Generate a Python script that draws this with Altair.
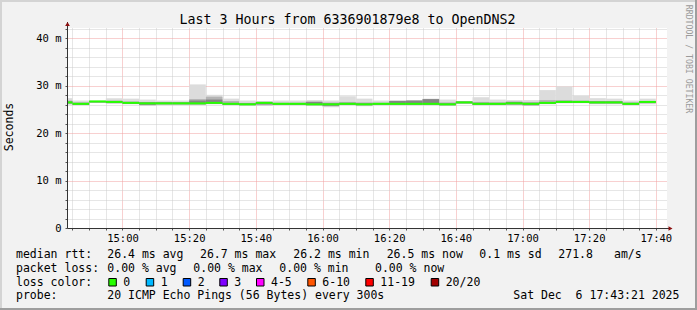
import altair as alt
import pandas as pd

# ---------------- data ----------------
times = ["14:40", "14:45", "14:50", "14:55", "15:00", "15:05", "15:10", "15:15", "15:20",
         "15:25", "15:30", "15:35", "15:40", "15:45", "15:50", "15:55", "16:00", "16:05",
         "16:10", "16:15", "16:20", "16:25", "16:30", "16:35", "16:40", "16:45", "16:50",
         "16:55", "17:00", "17:05", "17:10", "17:15", "17:20", "17:25", "17:30", "17:35"]

median = [26.5, 26.2, 26.7, 26.6, 26.4, 26.3, 26.3, 26.3, 26.3,
          26.4, 26.2, 26.1, 26.4, 26.2, 26.2, 26.1, 26.1, 26.2,
          26.1, 26.2, 26.2, 26.2, 26.2, 26.1, 26.5, 26.2, 26.2,
          26.3, 26.2, 26.4, 26.6, 26.6, 26.5, 26.5, 26.2, 26.6]

smoke_max = [27.4, 26.9, 26.9, 27.4, 27.3, 27.1, 26.9, 26.9, 30.3,
             28.1, 27.3, 26.9, 26.8, 26.9, 26.9, 27.0, 26.9, 27.8,
             27.3, 26.9, 27.0, 27.0, 27.3, 27.1, 26.8, 27.6, 27.1,
             27.0, 27.0, 29.1, 29.9, 27.9, 27.4, 27.3, 26.9, 27.3]

smoke_min = [26.0, 25.9, 26.4, 26.2, 26.1, 25.8, 26.0, 26.0, 26.0,
             26.1, 25.9, 25.9, 25.8, 25.9, 25.9, 25.9, 25.5, 25.9,
             25.7, 25.9, 25.9, 25.9, 25.9, 25.8, 26.2, 25.9, 25.9,
             25.9, 25.8, 26.1, 26.3, 26.3, 26.1, 26.1, 25.9, 26.1]

mid_hi = [26.9, 26.5, 26.8, 26.9, 26.7, 26.6, 26.6, 26.5, 27.2,
          27.7, 26.8, 26.4, 26.6, 26.4, 26.4, 26.7, 26.5, 26.6,
          26.5, 26.4, 26.8, 26.8, 27.0, 26.5, 26.6, 26.6, 26.5,
          26.7, 26.6, 27.0, 27.0, 26.9, 26.8, 26.8, 26.5, 26.8]

mid_lo = [26.2, 26.0, 26.5, 26.3, 26.2, 25.9, 26.1, 26.1, 26.1,
          26.2, 26.0, 26.0, 25.9, 26.0, 26.0, 26.0, 25.7, 26.0,
          25.9, 26.0, 26.0, 26.0, 26.0, 25.9, 26.3, 26.0, 26.0,
          26.0, 25.9, 26.2, 26.4, 26.4, 26.3, 26.3, 26.0, 26.3]

dark_hi = [26.7, 26.4, 26.8, 26.8, 26.6, 26.5, 26.5, 26.5, 26.9,
           27.1, 26.4, 26.3, 26.6, 26.4, 26.4, 26.6, 26.3, 26.4,
           26.3, 26.4, 26.8, 26.9, 27.2, 26.3, 26.7, 26.4, 26.4,
           26.6, 26.4, 26.6, 26.8, 26.8, 26.7, 26.7, 26.4, 26.8]

dark_lo = [26.3, 26.0, 26.5, 26.4, 26.2, 26.0, 26.1, 26.1, 26.1,
           26.2, 26.0, 25.9, 26.1, 26.0, 26.0, 25.9, 25.8, 26.0,
           25.9, 26.0, 26.0, 26.0, 26.0, 25.9, 26.3, 26.0, 26.0,
           26.1, 25.9, 26.2, 26.4, 26.4, 26.3, 26.3, 26.0, 26.4]

title_text = "Last 3 Hours from 6336901879e8 to OpenDNS2"
y_title = "Seconds"
side_text = "RRDTOOL / TOBI OETIKER"

row1 = ["median rtt:", "26.4 ms avg", "26.7 ms max", "26.2 ms min", "26.5 ms now",
        "0.1 ms sd", "271.8", "am/s"]
row2 = ["packet loss:", "0.00 % avg", "0.00 % max", "0.00 % min", "0.00 % now"]
row3_head = "loss color:"
loss_labels = ["0", "1", "2", "3", "4-5", "6-10", "11-19", "20/20"]
loss_colors = ["#26ff00", "#00b8ff", "#0059ff", "#7e00ff", "#ff00ff", "#ff5500", "#ff0000", "#a10000"]
row4 = ["probe:", "20 ICMP Echo Pings (56 Bytes) every 300s", "Sat Dec  6 17:43:21 2025"]


def to_min(t):
    h, m = t.split(":")
    return int(h) * 60 + int(m)


df = pd.DataFrame({
    "start": [to_min(t) for t in times],
    "end": [to_min(t) + 5 for t in times],
    "median": median,
    "smin": smoke_min, "smax": smoke_max,
    "mlo": mid_lo, "mhi": mid_hi,
    "dlo": dark_lo, "dhi": dark_hi,
})

# ---------------- layout ----------------
PL, PT = 67, 28          # plot origin in the page
W, H = 600, 200
X_DOMAIN = [883.35, 1063.35]   # 14:43:21 .. 17:43:21 in minutes
Y_DOMAIN = [0, 42.2]
MONO = "DejaVu Sans Mono"
MINOR = "#cdcdcd"
MAJOR = "#f0a0a0"

xscale = alt.Scale(domain=X_DOMAIN, nice=False, zero=False)
yscale = alt.Scale(domain=Y_DOMAIN, nice=False, zero=False)

x_axis = alt.Axis(
    values=list(range(885, 1065, 5)),
    labelExpr="datum.value % 20 === 0 ? (floor(datum.value/60) + ':' + (datum.value % 60 < 10 ? '0' : '') + (datum.value % 60)) : ''",
    grid=True, gridDash=[1, 1], gridWidth=1,
    gridColor={"condition": {"test": "datum.value % 20 === 0", "value": MAJOR}, "value": MINOR},
    tickSize=2, tickColor="#555555", labelPadding=3, labelOverlap=False, labelFlush=False,
    labelFont=MONO, labelFontSize=10.5, labelColor="#000000", domainColor="#333333",
    title=None,
)
y_axis = alt.Axis(
    values=list(range(0, 43, 2)),
    labelExpr="datum.value === 0 ? '0' : (datum.value % 10 === 0 ? datum.value + ' m' : '')",
    grid=True, gridDash=[1, 1], gridWidth=1,
    gridColor={"condition": {"test": "datum.value % 10 === 0", "value": MAJOR}, "value": MINOR},
    tickSize=2, tickColor="#555555", labelPadding=4, labelOverlap=False, labelFlush=False,
    labelFont=MONO, labelFontSize=10.5, labelColor="#000000", domainColor="#333333",
    title=None,
)

base = alt.Chart(df)


def band(lo, hi, color):
    return base.mark_rect(color=color, clip=True).encode(
        x=alt.X("start:Q", scale=xscale, axis=x_axis), x2="end:Q",
        y=alt.Y(f"{lo}:Q", scale=yscale, axis=y_axis), y2=f"{hi}:Q")


light = band("smin", "smax", "#dcdcdc")
mid = band("mlo", "mhi", "#b4b4b4")
dark = band("dlo", "dhi", "#858585")
med = base.mark_rule(color=loss_colors[0], strokeWidth=2, clip=True).encode(
    x=alt.X("start:Q", scale=xscale, axis=x_axis), x2="end:Q",
    y=alt.Y("median:Q", scale=yscale, axis=y_axis))

ONE = alt.Data(values=[{"k": 1}])


def txt(s, px, py, size=11.5, align="left", angle=0, color="#000000", baseline="alphabetic"):
    return alt.Chart(ONE).mark_text(
        text=s.replace(" ", "\u00a0"), font=MONO, fontSize=size, align=align,
        baseline=baseline, angle=angle, color=color,
    ).encode(x=alt.value(px - PL), y=alt.value(py - PT))


def hline(x1, x2, y, color, w=1):
    return alt.Chart(ONE).mark_rule(color=color, strokeWidth=w).encode(
        x=alt.value(x1 - PL), x2=alt.value(x2 - PL), y=alt.value(y - PT))


def vline(x, y1, y2, color, w=1):
    return alt.Chart(ONE).mark_rule(color=color, strokeWidth=w).encode(
        x=alt.value(x - PL), y=alt.value(y1 - PT), y2=alt.value(y2 - PT))


def arrow(px, py, shape):
    return alt.Chart(ONE).mark_point(shape=shape, filled=True, size=22, color="#8b1010",
                                     opacity=1).encode(
        x=alt.value(px - PL), y=alt.value(py - PT))


layers = [light, mid, dark, med]

# axis extensions + arrows
layers += [vline(67.5, 228, 22, "#333333"), hline(667, 670, 228.5, "#333333"),
           arrow(67.5, 24, "triangle-up"), arrow(670.5, 228.5, "triangle-right")]

# titles
layers.append(txt(title_text, 347.5, 24, size=13.3, align="center"))
layers.append(txt(y_title, 10, 127, size=11.5, align="center", angle=270, baseline="middle"))
layers.append(txt(side_text, 688, 59, size=8.2, align="center", angle=90, baseline="middle",
                  color="#9a9a9a"))

# legend rows
r1x = [16, 107.3, 200, 293.3, 386.7, 479.3, 558.3, 614]
for s, px in zip(row1, r1x):
    layers.append(txt(s, px, 258))
r2x = [16, 107.3, 193.3, 279.3, 375]
for s, px in zip(row2, r2x):
    layers.append(txt(s, px, 271.5))
layers.append(txt(row3_head, 16, 285.5))
boxx = [108.3, 145.7, 182.7, 219.3, 256, 307.3, 365.3, 430.7]
for lab, col, bx in zip(loss_labels, loss_colors, boxx):
    layers.append(alt.Chart(ONE).mark_rect(color=col, stroke="#000000", strokeWidth=1).encode(
        x=alt.value(bx - PL + 0.5), x2=alt.value(bx - PL + 8), y=alt.value(278.5 - PT),
        y2=alt.value(286 - PT)))
    layers.append(txt(lab, bx + 15, 285.5))
r4x = [16, 107.3, 513.3]
for s, px in zip(row4, r4x):
    layers.append(txt(s, px, 298.5))

# outer frame
layers += [hline(0, 697, 1, "#d4d4d4", 2), vline(1, 0, 310, "#d4d4d4", 2),
           hline(0, 697, 309, "#9e9e9e", 2), vline(696, 0, 310, "#9e9e9e", 2)]

chart = alt.layer(*layers).properties(
    width=W, height=H,
    autosize=alt.AutoSizeParams(type="none"),
    padding={"left": PL, "top": PT, "right": 697 - PL - W, "bottom": 310 - PT - H},
    background="#f2f2f2",
).configure_view(fill="#ffffff", stroke=None)

chart.save("out.html", embed_options={"renderer": "svg", "actions": False})
